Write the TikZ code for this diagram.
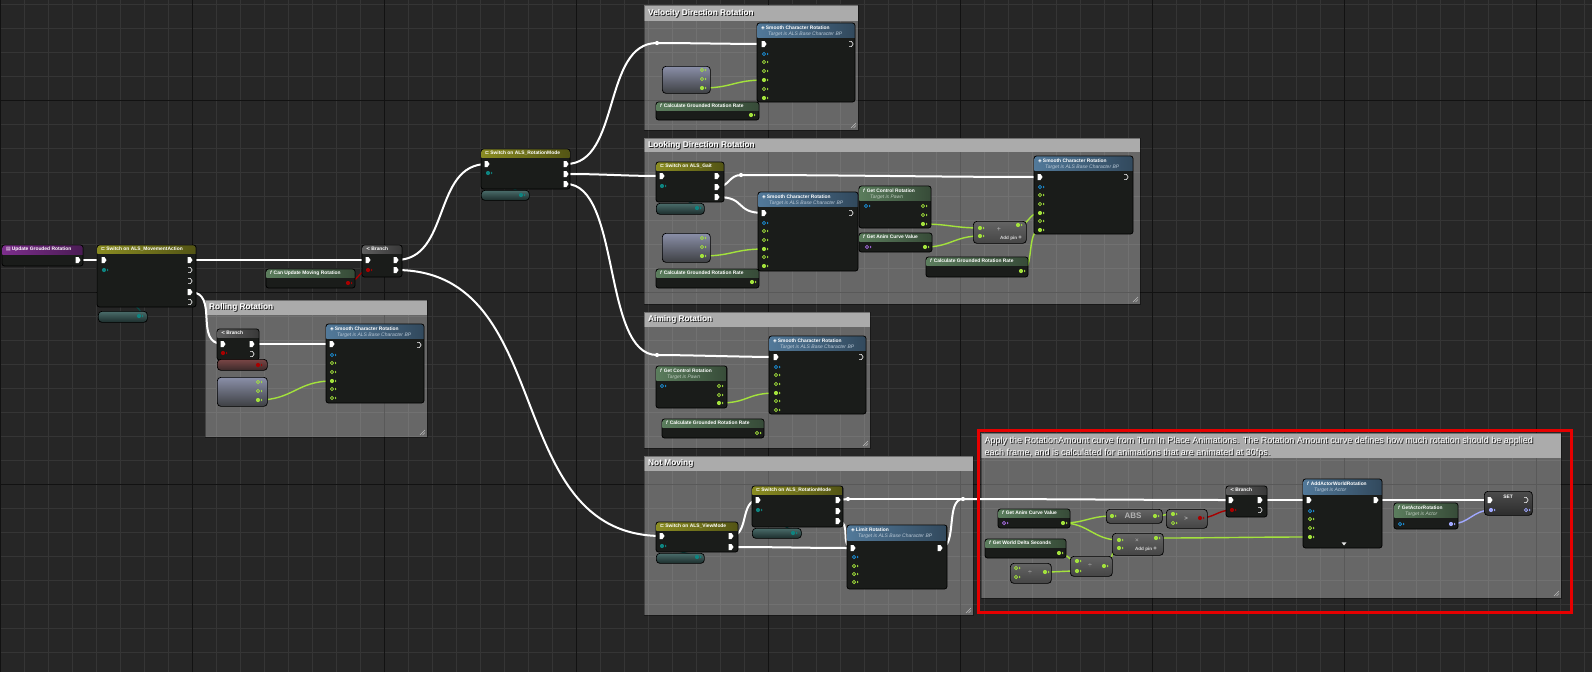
\documentclass[tikz,border=0pt]{standalone}
\usepackage{fontspec}
\setmainfont{Liberation Sans}
\newfontfamily\dejavu{DejaVu Sans}
\usetikzlibrary{calc}
\definecolor{bg}{HTML}{262626}
\definecolor{gminor}{HTML}{353535}
\definecolor{gmajor}{HTML}{121212}
\definecolor{nodebg}{HTML}{1A1C1A}
\definecolor{cEv}{HTML}{7C2E8C}
\definecolor{cSw}{HTML}{8A8C22}
\definecolor{cBr}{HTML}{5E5E5E}
\definecolor{cPure}{HTML}{5B7D5D}
\definecolor{cImp}{HTML}{52799A}
\definecolor{pg}{HTML}{A3E23C}
\definecolor{pb}{HTML}{1A8FD8}
\definecolor{pt}{HTML}{0E8480}
\definecolor{pr}{HTML}{A80000}
\definecolor{pp}{HTML}{A66BE0}
\definecolor{pl}{HTML}{A0A8FF}
\definecolor{wteal}{HTML}{0B4A48}
\definecolor{cbar}{HTML}{ABABAB}
\definecolor{redbox}{HTML}{E60000}
\definecolor{optext}{HTML}{B4B4B4}
\definecolor{pillT}{HTML}{8A8FA8}
\definecolor{pillB}{HTML}{3E4043}
\definecolor{tealT}{HTML}{4A6C6A}
\definecolor{tealB}{HTML}{1C2D2C}
\definecolor{redT}{HTML}{7A4646}
\definecolor{redB}{HTML}{3A2A2A}
\definecolor{opT}{HTML}{646464}
\definecolor{opB}{HTML}{454545}
\definecolor{setT}{HTML}{4C4C4C}
\definecolor{setB}{HTML}{2C2C2C}

\tikzset{
 nbody/.style={fill=nodebg, draw=black, line width=0.8pt, rounded corners=2.5pt, inner sep=0pt, outer sep=0pt},
 ttl/.style={text=white, font=\fontsize{4.9}{5.5}\selectfont\bfseries, inner sep=0pt},
 sub/.style={font=\fontsize{5}{5.5}\selectfont\itshape, inner sep=0pt},
 ctitle/.style={text=white, font=\fontsize{8.3}{9}\selectfont\bfseries, inner sep=0pt, anchor=west},
 cshadow/.style={text=black!90, font=\fontsize{8.3}{9}\selectfont\bfseries, inner sep=0pt, anchor=west},
 rtitle/.style={text=white, font=\fontsize{9}{9}\selectfont, inner sep=0pt, anchor=base west},
 rshadow/.style={text=black!90, font=\fontsize{9}{9}\selectfont, inner sep=0pt, anchor=base west},
 ewire/.style={white, line width=2pt},
 gwire/.style={pg, line width=1.4pt},
 rwire/.style={pr, line width=1.4pt},
 twire/.style={wteal, line width=1.2pt},
 lwire/.style={pl, line width=1.4pt},
 knot/.style={circle, fill=white, inner sep=0pt, minimum size=4.2pt},
 optxt/.style={text=optext, inner sep=0pt},
}

\newcommand\iconf{\textit{f}\hspace{1.5pt}}
\newcommand\icond{{\dejavu ◈}\hspace{1pt}}
\newcommand\iconsw{{\dejavu ⊏}\hspace{1pt}}
\newcommand\iconbr{{\dejavu <}\hspace{1pt}}
\newcommand\iconev{{\dejavu ▤}\hspace{1pt}}

\newcommand\bpnode[9]{%
  \node[nbody, anchor=north west, minimum width={#4-#2}, minimum height={#5-#3}] (#1) at (#2,#3) {};
  \begin{scope}
    \clip[rounded corners=2.5pt] (#2+0.4,#3+0.4) rectangle (#4-0.4,#5-0.4);
    \shade[left color=#7, right color=#7!60!black] (#2,#3) rectangle (#4,#6);
  \end{scope}
  \if\relax\detokenize{#9}\relax
    \node[ttl, anchor=west] at (#2+4, {(#3+#6)/2}) {#8};
  \else
    \node[ttl, anchor=west] at (#2+4, #3+4.7) {#8};
    \node[sub, anchor=west, text=#7!40!white] at (#2+11, #3+10.8) {#9};
  \fi
}
\newcommand\pill[7]{\node[draw=black, line width=0.7pt, rounded corners=3.5pt, anchor=north west, minimum width={#4-#2}, minimum height={#5-#3}, inner sep=0pt, top color=#6, bottom color=#7] (#1) at (#2,#3) {};}
\newcommand\bpcomment[7]{%
  \fill[white, opacity=0.3] (#2,#3) rectangle (#4,#5);
  \fill[cbar] (#2,#3) rectangle (#4,#6);
  \draw[black, opacity=0.35, line width=0.6pt] (#2,#3) rectangle (#4,#5);
  \node[cshadow] at (#2+5, {(#3+#6)/2+1}) {#7};
  \node[ctitle] (#1) at (#2+4, {(#3+#6)/2}) {#7};
  \draw[white, opacity=0.55, line width=0.4pt] (#4-2,#5-7) -- (#4-7,#5-2) (#4-2,#5-4.5) -- (#4-4.5,#5-2);
}
\newcommand\exF[1]{\fill[white] ($#1+(-2.5,-3)$) -- ++(3,0) -- ++(2,3) -- ++(-2,3) -- ++(-3,0) -- cycle;}
\newcommand\exO[1]{\draw[white, line width=0.6pt, line join=round] ($#1+(-2,-2.6)$) -- ++(2.4,0) -- ++(1.8,2.6) -- ++(-1.8,2.6) -- ++(-2.4,0);}
\newcommand\pinF[2]{\fill[#2] #1 circle (2.1pt); \fill[#2] ($#1+(3,-1.4)$) -- ++(1.5,1.4) -- ++(-1.5,1.4) -- cycle;}
\newcommand\pinO[2]{\draw[#2, line width=0.75pt] #1 circle (1.7pt); \fill[#2] ($#1+(3,-1.4)$) -- ++(1.5,1.4) -- ++(-1.5,1.4) -- cycle;}
\newcommand\wire[4]{\draw[#1] (#2) .. controls ($(#2)+(#4,0)$) and ($(#3)-(#4,0)$) .. (#3);}

\begin{document}
\begin{tikzpicture}[x=1pt,y=-1pt]
\useasboundingbox (0,0) rectangle (1592,672);
% ---------------- background grid
\fill[bg] (0,0) rectangle (1592,672);
\foreach \i in {0,...,66} \draw[gminor, line width=0.9pt] (\i*24+0.5,0) -- (\i*24+0.5,672);
\foreach \j in {0,...,27} \draw[gminor, line width=0.9pt] (0,\j*24+4.3) -- (1592,\j*24+4.3);
\foreach \i in {0,...,8} \draw[gmajor, line width=1.1pt] (\i*192+0.5,0) -- (\i*192+0.5,672);
\foreach \j in {0,1,2} \draw[gmajor, line width=1.1pt] (0,\j*192+100.3) -- (1592,\j*192+100.3);

% ---------------- comments
\bpcomment{cvel}{644}{5}{858}{130}{21}{Velocity Direction Rotation}
\bpcomment{clook}{644}{138}{1140}{304}{152}{Looking Direction Rotation}
\bpcomment{caim}{644}{312}{870}{448}{327}{Aiming Rotation}
\bpcomment{cnm}{644}{456}{973}{615}{471}{Not Moving}
\bpcomment{croll}{205}{300}{427}{437}{315}{Rolling Rotation}
\bpcomment{cturn}{981}{433}{1561}{598}{458}{}
\node[rshadow] at (985.5,444) {Apply the RotationAmount curve from Turn In Place Animations. The Rotation Amount curve defines how much rotation should be applied};
\node[rtitle] (turn1) at (984.5,443) {Apply the RotationAmount curve from Turn In Place Animations. The Rotation Amount curve defines how much rotation should be applied};
\node[rshadow] at (985.5,456.7) {each frame, and is calculated for animations that are animated at 30fps.};
\node[rtitle] (turn2) at (984.5,455.7) {each frame, and is calculated for animations that are animated at 30fps.};

% ---------------- pin coordinates
\coordinate (ev-o) at (78,260);
\coordinate (ma-i) at (104,260); \coordinate (ma-t) at (104,270);
\coordinate (ma-o1) at (190,260); \coordinate (ma-o4) at (190,292);
\coordinate (map-t) at (139,316);
\coordinate (br-i) at (368,260); \coordinate (br-r) at (368,270);
\coordinate (br-t) at (396,260); \coordinate (br-f) at (396,270);
\coordinate (cu-o) at (348,283);
\coordinate (rm-i) at (487,164); \coordinate (rm-t) at (488,173);
\coordinate (rm-o1) at (566,164); \coordinate (rm-o2) at (566,174); \coordinate (rm-o3) at (566,184);
\coordinate (rmp-t) at (521,195);
\coordinate (kv) at (657,43); \coordinate (kl) at (741,175); \coordinate (ka) at (657,355);
\coordinate (kn) at (848,499); \coordinate (kr) at (963,499);
\coordinate (v-i) at (764,44); \coordinate (v-p4) at (764,80); \coordinate (vp-o) at (702,88);
\coordinate (g-i) at (662,176); \coordinate (g-t) at (662,186);
\coordinate (g-o2) at (717,187); \coordinate (g-o3) at (717,197); \coordinate (gp-t) at (697,208);
\coordinate (l1-i) at (764,213); \coordinate (l1-p4) at (764,249); \coordinate (lp-o) at (702,256);
\coordinate (gcr-o) at (923,224); \coordinate (gacv-o) at (925,247);
\coordinate (add-i1) at (980,228); \coordinate (add-i2) at (980,236); \coordinate (add-o) at (1018,225);
\coordinate (lc2-o) at (1021,271);
\coordinate (l2-i) at (1040,177); \coordinate (l2-p4) at (1040,213); \coordinate (l2-p6) at (1040,230);
\coordinate (a-i) at (776,357); \coordinate (a-p4) at (776,393); \coordinate (agcr-o) at (719,403);
\coordinate (vm-i) at (662,536); \coordinate (vm-t) at (662,546);
\coordinate (vm-o1) at (731,536); \coordinate (vm-o2) at (731,547); \coordinate (vmp-t) at (697,557);
\coordinate (nr-i) at (758,500); \coordinate (nr-t) at (758,510);
\coordinate (nr-o1) at (838,500); \coordinate (nr-o3) at (838,521); \coordinate (nrp-t) at (793,533);
\coordinate (lr-i) at (853,548); \coordinate (lr-o) at (940,548);
\coordinate (rb-i) at (1231,500); \coordinate (rb-r) at (1232,510); \coordinate (rb-o) at (1260,500);
\coordinate (aw-i) at (1309,500); \coordinate (aw-o) at (1376,500); \coordinate (aw-p4) at (1310,537);
\coordinate (gar-o) at (1451,524);
\coordinate (set-i) at (1490,500); \coordinate (set-l) at (1491,510);
\coordinate (rg-o) at (1063,523); \coordinate (abs-i) at (1112,516); \coordinate (abs-o) at (1155,516);
\coordinate (gt-i1) at (1173,514); \coordinate (gt-o) at (1200,518);
\coordinate (mul-i1) at (1119,540); \coordinate (mul-i2) at (1119,548); \coordinate (mul-o) at (1156,538);
\coordinate (wds-o) at (1059,553);
\coordinate (d2-i1) at (1077,561); \coordinate (d2-i2) at (1077,571); \coordinate (d2-o) at (1104,566);
\coordinate (d1-o) at (1045,572);
\coordinate (ro-i) at (223,344); \coordinate (ro-r) at (223,353); \coordinate (ro-o1) at (252,344);
\coordinate (rop-r) at (258,365); \coordinate (ropg-o) at (258,400);
\coordinate (rs-i) at (332,344); \coordinate (rs-p4) at (332,381);

% ---------------- wires
\wire{ewire}{ev-o}{ma-i}{8}
\wire{ewire}{ma-o1}{br-i}{40}
\wire{rwire}{cu-o}{br-r}{8}
\wire{ewire}{br-t}{rm-i}{55}
\wire{ewire}{br-f}{vm-i}{163}
\wire{ewire}{ma-o4}{ro-i}{30}
\wire{ewire}{ro-o1}{rs-i}{30}
\wire{rwire}{rop-r}{ro-r}{8}
\wire{gwire}{ropg-o}{rs-p4}{35}
\wire{twire}{map-t}{ma-t}{18}
\wire{ewire}{rm-o1}{kv}{55}
\wire{ewire}{kv}{v-i}{30}
\wire{gwire}{vp-o}{v-p4}{30}
\wire{ewire}{rm-o2}{g-i}{40}
\wire{ewire}{rm-o3}{ka}{55}
\wire{ewire}{ka}{a-i}{30}
\wire{twire}{rmp-t}{rm-t}{10}
\wire{ewire}{g-o2}{kl}{12}
\wire{ewire}{kl}{l2-i}{100}
\wire{ewire}{g-o3}{l1-i}{30}
\wire{twire}{gp-t}{g-t}{10}
\wire{gwire}{lp-o}{l1-p4}{30}
\wire{gwire}{gcr-o}{add-i1}{25}
\wire{gwire}{gacv-o}{add-i2}{25}
\wire{gwire}{add-o}{l2-p4}{12}
\wire{gwire}{lc2-o}{l2-p6}{14}
\wire{gwire}{agcr-o}{a-p4}{30}
\wire{ewire}{vm-o1}{nr-i}{18}
\wire{ewire}{vm-o2}{lr-i}{50}
\wire{twire}{vmp-t}{vm-t}{10}
\wire{twire}{nrp-t}{nr-t}{10}
\wire{ewire}{nr-o1}{kn}{5}
\wire{ewire}{kn}{kr}{40}
\wire{ewire}{nr-o3}{lr-i}{14}
\wire{ewire}{lr-o}{kr}{18}
\wire{ewire}{kr}{rb-i}{80}
\wire{ewire}{rb-o}{aw-i}{20}
\wire{ewire}{aw-o}{set-i}{50}
\wire{gwire}{rg-o}{abs-i}{22}
\wire{gwire}{rg-o}{mul-i1}{25}
\wire{gwire}{abs-o}{gt-i1}{8}
\wire{rwire}{gt-o}{rb-r}{14}
\wire{gwire}{mul-o}{aw-p4}{60}
\wire{gwire}{wds-o}{d2-i1}{10}
\wire{gwire}{d2-o}{mul-i2}{10}
\wire{gwire}{d1-o}{d2-i2}{12}
\wire{lwire}{gar-o}{set-l}{18}
\foreach \k in {kv,kl,ka,kn,kr} \node[knot] (\k-dot) at (\k) {};

% ---------------- nodes: main chain
\bpnode{ev}{2}{245}{83}{266}{254}{cEv}{\iconev Update Grouded Rotation}{}
\bpnode{swma}{97}{245}{196}{307}{253}{cSw}{\iconsw Switch on ALS\_MovementAction}{}
\pill{swmap}{98}{311}{147}{322}{tealT}{tealB}
\bpnode{brm}{362}{245}{402}{277}{253}{cBr}{\iconbr Branch}{}
\bpnode{canupd}{266}{269}{355}{288}{277}{cPure}{\iconf Can Update Moving Rotation}{}
\bpnode{swrm}{481}{149}{570}{189}{157}{cSw}{\iconsw Switch on ALS\_RotationMode}{}
\pill{swrmp}{481}{190}{529}{200}{tealT}{tealB}

% velocity
\bpnode{vsm}{757}{23}{855}{102}{37}{cImp}{\icond Smooth Character Rotation}{Target is ALS Base Character BP}
\pill{vpill}{662}{66}{710}{93}{pillT}{pillB}
\bpnode{vcalc}{656}{102}{759}{120}{110}{cPure}{\iconf Calculate Grounded Rotation Rate}{}

% looking
\bpnode{gait}{656}{162}{724}{202}{170}{cSw}{\iconsw Switch on ALS\_Gait}{}
\pill{gaitp}{656}{203}{704}{214}{tealT}{tealB}
\bpnode{lsm1}{758}{192}{858}{271}{206}{cImp}{\icond Smooth Character Rotation}{Target is ALS Base Character BP}
\pill{lpill}{662}{233}{710}{262}{pillT}{pillB}
\bpnode{lcalc1}{656}{269}{759}{288}{277}{cPure}{\iconf Calculate Grounded Rotation Rate}{}
\bpnode{lgcr}{859}{186}{931}{228}{200}{cPure}{\iconf Get Control Rotation}{Target is Pawn}
\bpnode{lgacv}{859}{233}{932}{252}{241}{cPure}{\iconf Get Anim Curve Value}{}
\pill{ladd}{973}{221}{1026}{243}{opT}{opB}
\node[optxt, font=\fontsize{7}{7}\selectfont] (laddsym) at (999,229) {+};
\node[text=white!85!black, inner sep=0pt, font=\fontsize{4.6}{5}\selectfont\bfseries] (laddpin) at (1011,238) {Add pin {\fontsize{6}{6}\selectfont+}};
\bpnode{lcalc2}{926}{257}{1028}{277}{265}{cPure}{\iconf Calculate Grounded Rotation Rate}{}
\bpnode{lsm2}{1034}{156}{1133}{234}{170}{cImp}{\icond Smooth Character Rotation}{Target is ALS Base Character BP}

% aiming
\bpnode{asm}{769}{336}{866}{414}{350}{cImp}{\icond Smooth Character Rotation}{Target is ALS Base Character BP}
\bpnode{agcr}{656}{366}{727}{408}{380}{cPure}{\iconf Get Control Rotation}{Target is Pawn}
\bpnode{acalc}{662}{419}{764}{438}{427}{cPure}{\iconf Calculate Grounded Rotation Rate}{}

% not moving
\bpnode{vm}{656}{522}{738}{552}{530}{cSw}{\iconsw Switch on ALS\_ViewMode}{}
\pill{vmp}{656}{553}{704}{563}{tealT}{tealB}
\bpnode{nrm}{752}{486}{843}{527}{494}{cSw}{\iconsw Switch on ALS\_RotationMode}{}
\pill{nrmp}{752}{528}{801}{538}{tealT}{tealB}
\bpnode{lr}{847}{525}{947}{589}{540}{cImp}{\icond Limit Rotation}{Target is ALS Base Character BP}

% turn in place
\bpnode{rbr}{1226}{486}{1267}{517}{494}{cBr}{\iconbr Branch}{}
\bpnode{aawr}{1303}{479}{1382}{548}{494}{cImp}{\iconf AddActorWorldRotation}{Target is Actor}
\fill[white!80!gray] (1341.5,542.3) -- (1346.5,542.3) -- (1344,545.5) -- cycle;
\bpnode{gar}{1394}{503}{1458}{529}{517}{cPure}{\iconf GetActorRotation}{Target is Actor}
\pill{set}{1484}{491}{1532}{515}{setT}{setB}
\node[ttl] (settxt) at (1508,497) {SET};
\bpnode{rgacv}{998}{509}{1070}{528}{517}{cPure}{\iconf Get Anim Curve Value}{}
\pill{abs}{1106}{509}{1162}{523}{opT}{opB}
\node[optxt, font=\fontsize{8}{8}\selectfont\bfseries] (abstxt) at (1133,516) {ABS};
\pill{gt}{1166}{509}{1207}{528}{opT}{opB}
\node[optxt, font=\fontsize{6}{6}\selectfont\bfseries] (gttxt) at (1186,519) {>};
\pill{mul}{1112}{533}{1163}{555}{opT}{opB}
\node[optxt, font=\fontsize{6.5}{6.5}\selectfont] (multxt) at (1137,540.5) {×};
\node[text=white!85!black, inner sep=0pt, font=\fontsize{4.6}{5}\selectfont\bfseries] (mulpin) at (1146,549) {Add pin {\fontsize{6}{6}\selectfont+}};
\bpnode{wds}{985}{539}{1066}{558}{547}{cPure}{\iconf Get World Delta Seconds}{}
\pill{div2}{1070}{556}{1112}{576}{opT}{opB}
\node[optxt, font=\fontsize{7}{7}\selectfont] (d2txt) at (1090,566) {÷};
\pill{div1}{1010}{563}{1051}{583}{opT}{opB}
\node[optxt, font=\fontsize{7}{7}\selectfont] (d1txt) at (1030,573) {÷};

% rolling
\bpnode{rbr2}{217}{329}{259}{360}{337}{cBr}{\iconbr Branch}{}
\pill{rpillr}{217}{359}{267}{370}{redT}{redB}
\pill{rpillg}{217}{377}{267}{406}{pillT}{pillB}
\bpnode{rsm}{326}{324}{424}{403}{338}{cImp}{\icond Smooth Character Rotation}{Target is ALS Base Character BP}

% red highlight box
\draw[redbox, line width=3pt] (978,430) rectangle (1571,612);

% ---------------- pins
\exF{(ev-o)}
\exF{(ma-i)} \pinF{(ma-t)}{pt}
\exF{(ma-o1)} \exO{(190,270)} \exO{(190,281)} \exF{(ma-o4)} \exO{(190,302)}
\pinF{(map-t)}{pt}
\exF{(br-i)} \pinF{(br-r)}{pr} \exF{(br-t)} \exF{(br-f)}
\pinF{(cu-o)}{pr}
\exF{(rm-i)} \pinF{(rm-t)}{pt} \exF{(rm-o1)} \exF{(rm-o2)} \exF{(rm-o3)}
\pinF{(rmp-t)}{pt}
% velocity
\exF{(v-i)} \exO{(851,44)} \pinO{(764,54)}{pb} \pinO{(764,62)}{pg} \pinO{(764,71)}{pg}
\pinF{(v-p4)}{pg} \pinO{(764,89)}{pg} \pinF{(764,98)}{pg}
\pinO{(702,70)}{pg} \pinO{(702,79)}{pg} \pinF{(vp-o)}{pg}
\pinF{(751,115)}{pg}
% looking
\exF{(g-i)} \pinF{(g-t)}{pt} \exF{(717,176)} \exF{(g-o2)} \exF{(g-o3)}
\pinF{(gp-t)}{pt}
\exF{(l1-i)} \exO{(851,213)} \pinO{(764,223)}{pb} \pinO{(764,231)}{pg} \pinO{(764,240)}{pg}
\pinF{(l1-p4)}{pg} \pinO{(764,257)}{pg} \pinF{(764,266)}{pg}
\pinO{(702,238)}{pg} \pinO{(702,247)}{pg} \pinF{(lp-o)}{pg}
\pinF{(752,282)}{pg}
\pinO{(866,206)}{pb} \pinO{(923,206)}{pg} \pinO{(923,215)}{pg} \pinF{(gcr-o)}{pg}
\pinO{(867,247)}{pp} \pinF{(gacv-o)}{pg}
\pinF{(add-i1)}{pg} \pinF{(add-i2)}{pg} \pinF{(add-o)}{pg}
\pinF{(lc2-o)}{pg}
\exF{(l2-i)} \exO{(1126,177)} \pinO{(1040,187)}{pb} \pinO{(1040,195)}{pg} \pinO{(1040,204)}{pg}
\pinF{(l2-p4)}{pg} \pinO{(1040,221)}{pg} \pinF{(l2-p6)}{pg}
% aiming
\exF{(a-i)} \exO{(861,357)} \pinO{(776,367)}{pb} \pinO{(776,375)}{pg} \pinO{(776,384)}{pg}
\pinF{(a-p4)}{pg} \pinO{(776,401)}{pg} \pinO{(776,410)}{pg}
\pinO{(662,386)}{pb} \pinO{(719,386)}{pg} \pinO{(719,395)}{pg} \pinF{(agcr-o)}{pg}
\pinO{(757,433)}{pg}
% not moving
\exF{(vm-i)} \pinF{(vm-t)}{pt} \exF{(vm-o1)} \exF{(vm-o2)} \pinF{(vmp-t)}{pt}
\exF{(nr-i)} \pinF{(nr-t)}{pt} \exF{(nr-o1)} \exF{(838,511)} \exF{(nr-o3)} \pinF{(nrp-t)}{pt}
\exF{(lr-i)} \exF{(lr-o)} \pinO{(854,557)}{pb} \pinO{(854,566)}{pg} \pinO{(854,574)}{pg} \pinO{(854,582)}{pg}
% turn in place
\exF{(rb-i)} \pinF{(rb-r)}{pr} \exF{(rb-o)} \exO{(1260,510)}
\exF{(aw-i)} \exF{(aw-o)} \pinO{(1310,511)}{pb} \pinO{(1310,519)}{pg} \pinO{(1310,528)}{pg} \pinF{(aw-p4)}{pg}
\pinO{(1400,524)}{pb} \pinF{(gar-o)}{pl}
\exF{(set-i)} \exO{(1526,500)} \pinF{(set-l)}{pl} \pinO{(1526,510)}{pl}
\pinO{(1004,523)}{pp} \pinF{(rg-o)}{pg}
\pinF{(abs-i)}{pg} \pinF{(abs-o)}{pg}
\pinF{(gt-i1)}{pg} \pinO{(1173,523)}{pg} \pinF{(gt-o)}{pr}
\pinF{(mul-i1)}{pg} \pinF{(mul-i2)}{pg} \pinF{(mul-o)}{pg}
\pinF{(wds-o)}{pg}
\pinF{(d2-i1)}{pg} \pinF{(d2-i2)}{pg} \pinF{(d2-o)}{pg}
\pinO{(1016,568)}{pg} \pinO{(1016,577)}{pg} \pinF{(d1-o)}{pg}
% rolling
\exF{(ro-i)} \pinF{(ro-r)}{pr} \exF{(ro-o1)} \exO{(252,354)}
\pinF{(rop-r)}{pr}
\pinO{(258,382)}{pg} \pinO{(258,391)}{pg} \pinF{(ropg-o)}{pg}
\exF{(rs-i)} \exO{(419,345)} \pinO{(332,355)}{pb} \pinO{(332,363)}{pg} \pinO{(332,372)}{pg}
\pinF{(rs-p4)}{pg} \pinO{(332,389)}{pg} \pinO{(332,398)}{pg}
\end{tikzpicture}
\end{document}
